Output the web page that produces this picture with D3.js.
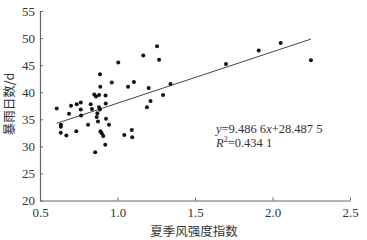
<!DOCTYPE html>
<html>
<head>
<meta charset="utf-8">
<script src="https://cdn.jsdelivr.net/npm/d3@7/dist/d3.min.js"></script>
<style>
  html, body { margin: 0; padding: 0; background: #fff; }
  svg { display: block; }
</style>
</head>
<body>
<div id="chart"></div>
<script>
// 夏季风强度指数 vs 暴雨日数
const windIndex = [
  0.608, 0.700, 0.737, 0.763, 0.687, 0.763, 0.765, 0.635, 0.635, 0.634,
  0.670, 0.734, 0.810, 0.827, 0.835, 0.850, 0.861, 0.881, 0.889, 0.887,
  0.923, 0.924, 0.881, 0.887, 0.870, 0.866, 0.874, 0.926, 0.945, 0.890,
  0.898, 0.908, 0.921, 0.856, 1.044, 1.092, 1.095, 0.963, 1.005, 1.068,
  1.106, 1.166, 1.255, 1.268, 1.201, 1.190, 1.213, 1.294, 1.342, 1.700,
  1.911, 2.053, 2.248
];
const rainDays = [
  37.0, 37.5, 37.8, 38.1, 36.0, 36.8, 35.7, 34.0, 33.6, 32.5,
  32.0, 32.8, 34.0, 37.8, 36.9, 39.6, 39.2, 39.5, 41.0, 43.3,
  39.4, 37.9, 37.2, 36.8, 36.1, 35.4, 34.6, 35.1, 34.0, 32.8,
  32.4, 31.9, 30.3, 28.9, 32.1, 33.0, 31.7, 41.8, 45.5, 41.0,
  41.9, 46.8, 48.5, 46.0, 40.8, 37.2, 38.4, 39.5, 41.5, 45.2,
  47.7, 49.1, 45.9
];
const xTicks = [0.5, 1.0, 1.5, 2.0, 2.5];
const yTicks = [20, 25, 30, 35, 40, 45, 50, 55];
const slope = 9.4866, intercept = 28.4875;

const W = 367, H = 240;
const x = d3.scaleLinear().domain([0.5, 2.5]).range([40, 350]);
const y = d3.scaleLinear().domain([20, 55]).range([200.5, 11]);

const svg = d3.select('#chart').append('svg')
  .attr('width', W).attr('height', H);

const serif = '"Liberation Serif", "DejaVu Serif", serif';
const cjk = '"Noto Sans CJK SC", sans-serif';
const axisColor = '#666';
const textColor = '#333';

// axes (ticks point inward)
const xAxisG = svg.append('g').attr('transform', `translate(0,${y(20)})`)
  .call(d3.axisBottom(x).tickValues(xTicks).tickSizeInner(-3).tickSizeOuter(0)
    .tickPadding(7).tickFormat(d3.format('.1f')));
const yAxisG = svg.append('g').attr('transform', `translate(${x(0.5)},0)`)
  .call(d3.axisLeft(y).tickValues(yTicks).tickSizeInner(-3).tickSizeOuter(0)
    .tickPadding(5).tickFormat(d3.format('d')));
[xAxisG, yAxisG].forEach((ax) => {
  ax.select('.domain').attr('stroke', axisColor).attr('stroke-width', 1.2);
  ax.selectAll('line').attr('stroke', axisColor);
  ax.selectAll('text').attr('fill', textColor).attr('font-family', serif).attr('font-size', 13);
});

// axis titles
svg.append('text')
  .attr('x', 194).attr('y', 236)
  .attr('text-anchor', 'middle')
  .attr('font-family', cjk).attr('font-size', 12.5).attr('fill', textColor)
  .text('夏季风强度指数');
svg.append('text')
  .attr('transform', 'translate(13.5,104) rotate(-90)')
  .attr('text-anchor', 'middle')
  .attr('font-family', cjk).attr('font-size', 12.5).attr('fill', textColor)
  .text('暴雨日数/d');

// regression line
const xMin = d3.min(windIndex), xMax = d3.max(windIndex);
svg.append('line')
  .attr('x1', x(xMin)).attr('y1', y(slope * xMin + intercept))
  .attr('x2', x(xMax)).attr('y2', y(slope * xMax + intercept))
  .attr('stroke', '#444').attr('stroke-width', 1);

// points
svg.append('g').selectAll('circle')
  .data(windIndex.map((v, i) => [v, rainDays[i]]))
  .join('circle')
  .attr('cx', (d) => x(d[0]))
  .attr('cy', (d) => y(d[1]))
  .attr('r', 2)
  .attr('fill', '#111');

// equation
const eq = svg.append('g').attr('font-family', serif).attr('font-size', 12.5).attr('fill', textColor);
const t1 = eq.append('text').attr('x', 216).attr('y', 133);
t1.append('tspan').attr('font-style', 'italic').text('y');
t1.append('tspan').text('=9.486 6');
t1.append('tspan').attr('font-style', 'italic').text('x');
t1.append('tspan').text('+28.487 5');
const t2 = eq.append('text').attr('x', 216).attr('y', 147);
t2.append('tspan').attr('font-style', 'italic').text('R');
t2.append('tspan').attr('font-size', 8).attr('dy', -5).text('2');
t2.append('tspan').attr('dy', 5).text('=0.434 1');
</script>
</body>
</html>
